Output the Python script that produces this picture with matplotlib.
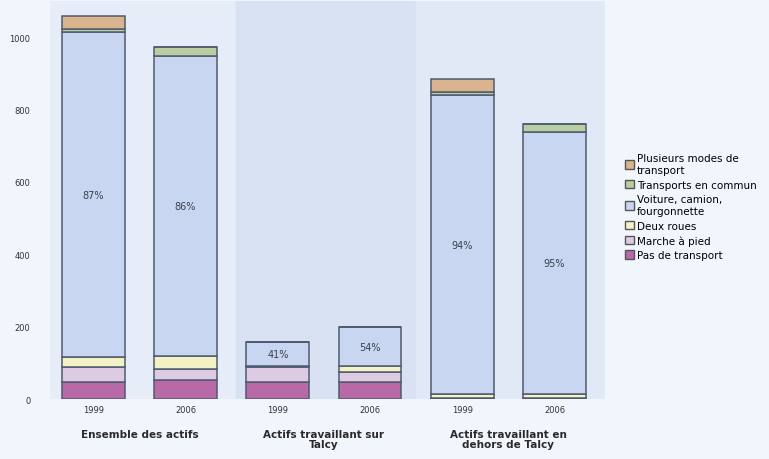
import matplotlib.pyplot as plt
import numpy as np
from matplotlib.patches import Patch

# ---- data ----
years = ['1999', '2006', '1999', '2006', '1999', '2006']
groups = ['Ensemble des actifs',
          'Actifs travaillant sur\nTalcy',
          'Actifs travaillant en\ndehors de Talcy']
modes = ['Pas de transport', 'Marche à pied', 'Deux roues',
         'Voiture, camion,\nfourgonnette', 'Transports en commun',
         'Plusieurs modes de\ntransport']
pas_transport = [47, 52, 48, 47, 0, 0]
marche = [41, 31, 40, 28, 4, 3]
deux_roues = [27, 36, 2, 16, 10, 10]
voiture = [899, 829, 67, 108, 826, 724]
transports_commun = [8, 24, 0, 0, 8, 23]
plusieurs = [36, 0, 0, 0, 36, 0]
pct_labels = ['87%', '86%', '41%', '54%', '94%', '95%']
yticks = [0, 200, 400, 600, 800, 1000]

colors = ['#b86aa8', '#dccbe3', '#f2f2c4', '#c9d6f2', '#b9cfa2', '#d9b48f']

fig = plt.figure(figsize=(7.69, 4.6), dpi=100, facecolor='#f1f5fc')
ax = fig.add_axes([0.065, 0.1304, 0.722, 0.865])
ax.set_facecolor('#e6edf8')

x = np.arange(len(years))
# subtle scan-like bands behind each group
ax.axvspan(1.55, 3.5, color='#d8e2f3', zorder=0)
ax.axvspan(3.5, 5.55, color='#e2e9f6', zorder=0)

series = [pas_transport, marche, deux_roues, voiture, transports_commun, plusieurs]
bottom = np.zeros(len(years))
for vals, col, name in zip(series, colors, modes):
    vals = np.array(vals, dtype=float)
    ax.bar(x, vals, width=0.68, bottom=bottom, color=col,
           edgecolor='#505a6e', linewidth=1.1, label=name, zorder=2)
    bottom += vals

# percentage labels in the car segment
base = np.array(pas_transport) + np.array(marche) + np.array(deux_roues)
for xi, b, v, t in zip(x, base, voiture, pct_labels):
    ax.text(xi, b + v / 2, t, ha='center', va='center', fontsize=7,
            color='#3a3f4a', zorder=3)

ax.set_xlim(-0.47, 5.55)
ax.set_ylim(0, 1100)
ax.set_yticks(yticks)
ax.set_yticklabels([str(t) for t in yticks], fontsize=6, color='#333333')
ax.tick_params(axis='y', length=0, pad=14)
ax.set_xticks(x)
ax.set_xticklabels(years, fontsize=6, color='#333333')
ax.tick_params(axis='x', length=0, pad=4)
for s in ax.spines.values():
    s.set_visible(False)

# group labels under each pair
for i, g in enumerate(groups):
    ax.text(2 * i + 0.5, -0.075, g, transform=ax.get_xaxis_transform(),
            ha='center', va='top', fontsize=7.5, fontweight='bold',
            color='#2a2a2a', linespacing=1.0)

handles = [Patch(facecolor=c, edgecolor='#555555', label=m)
           for c, m in zip(colors, modes)]
handles = handles[::-1]
fig.legend(handles=handles, loc='upper left', bbox_to_anchor=(0.8, 0.685),
           fontsize=7.5, frameon=False, handlelength=0.9, handleheight=0.9,
           handletextpad=0.3, labelspacing=0.45)

fig.savefig('out.png', dpi=100, facecolor=fig.get_facecolor())
